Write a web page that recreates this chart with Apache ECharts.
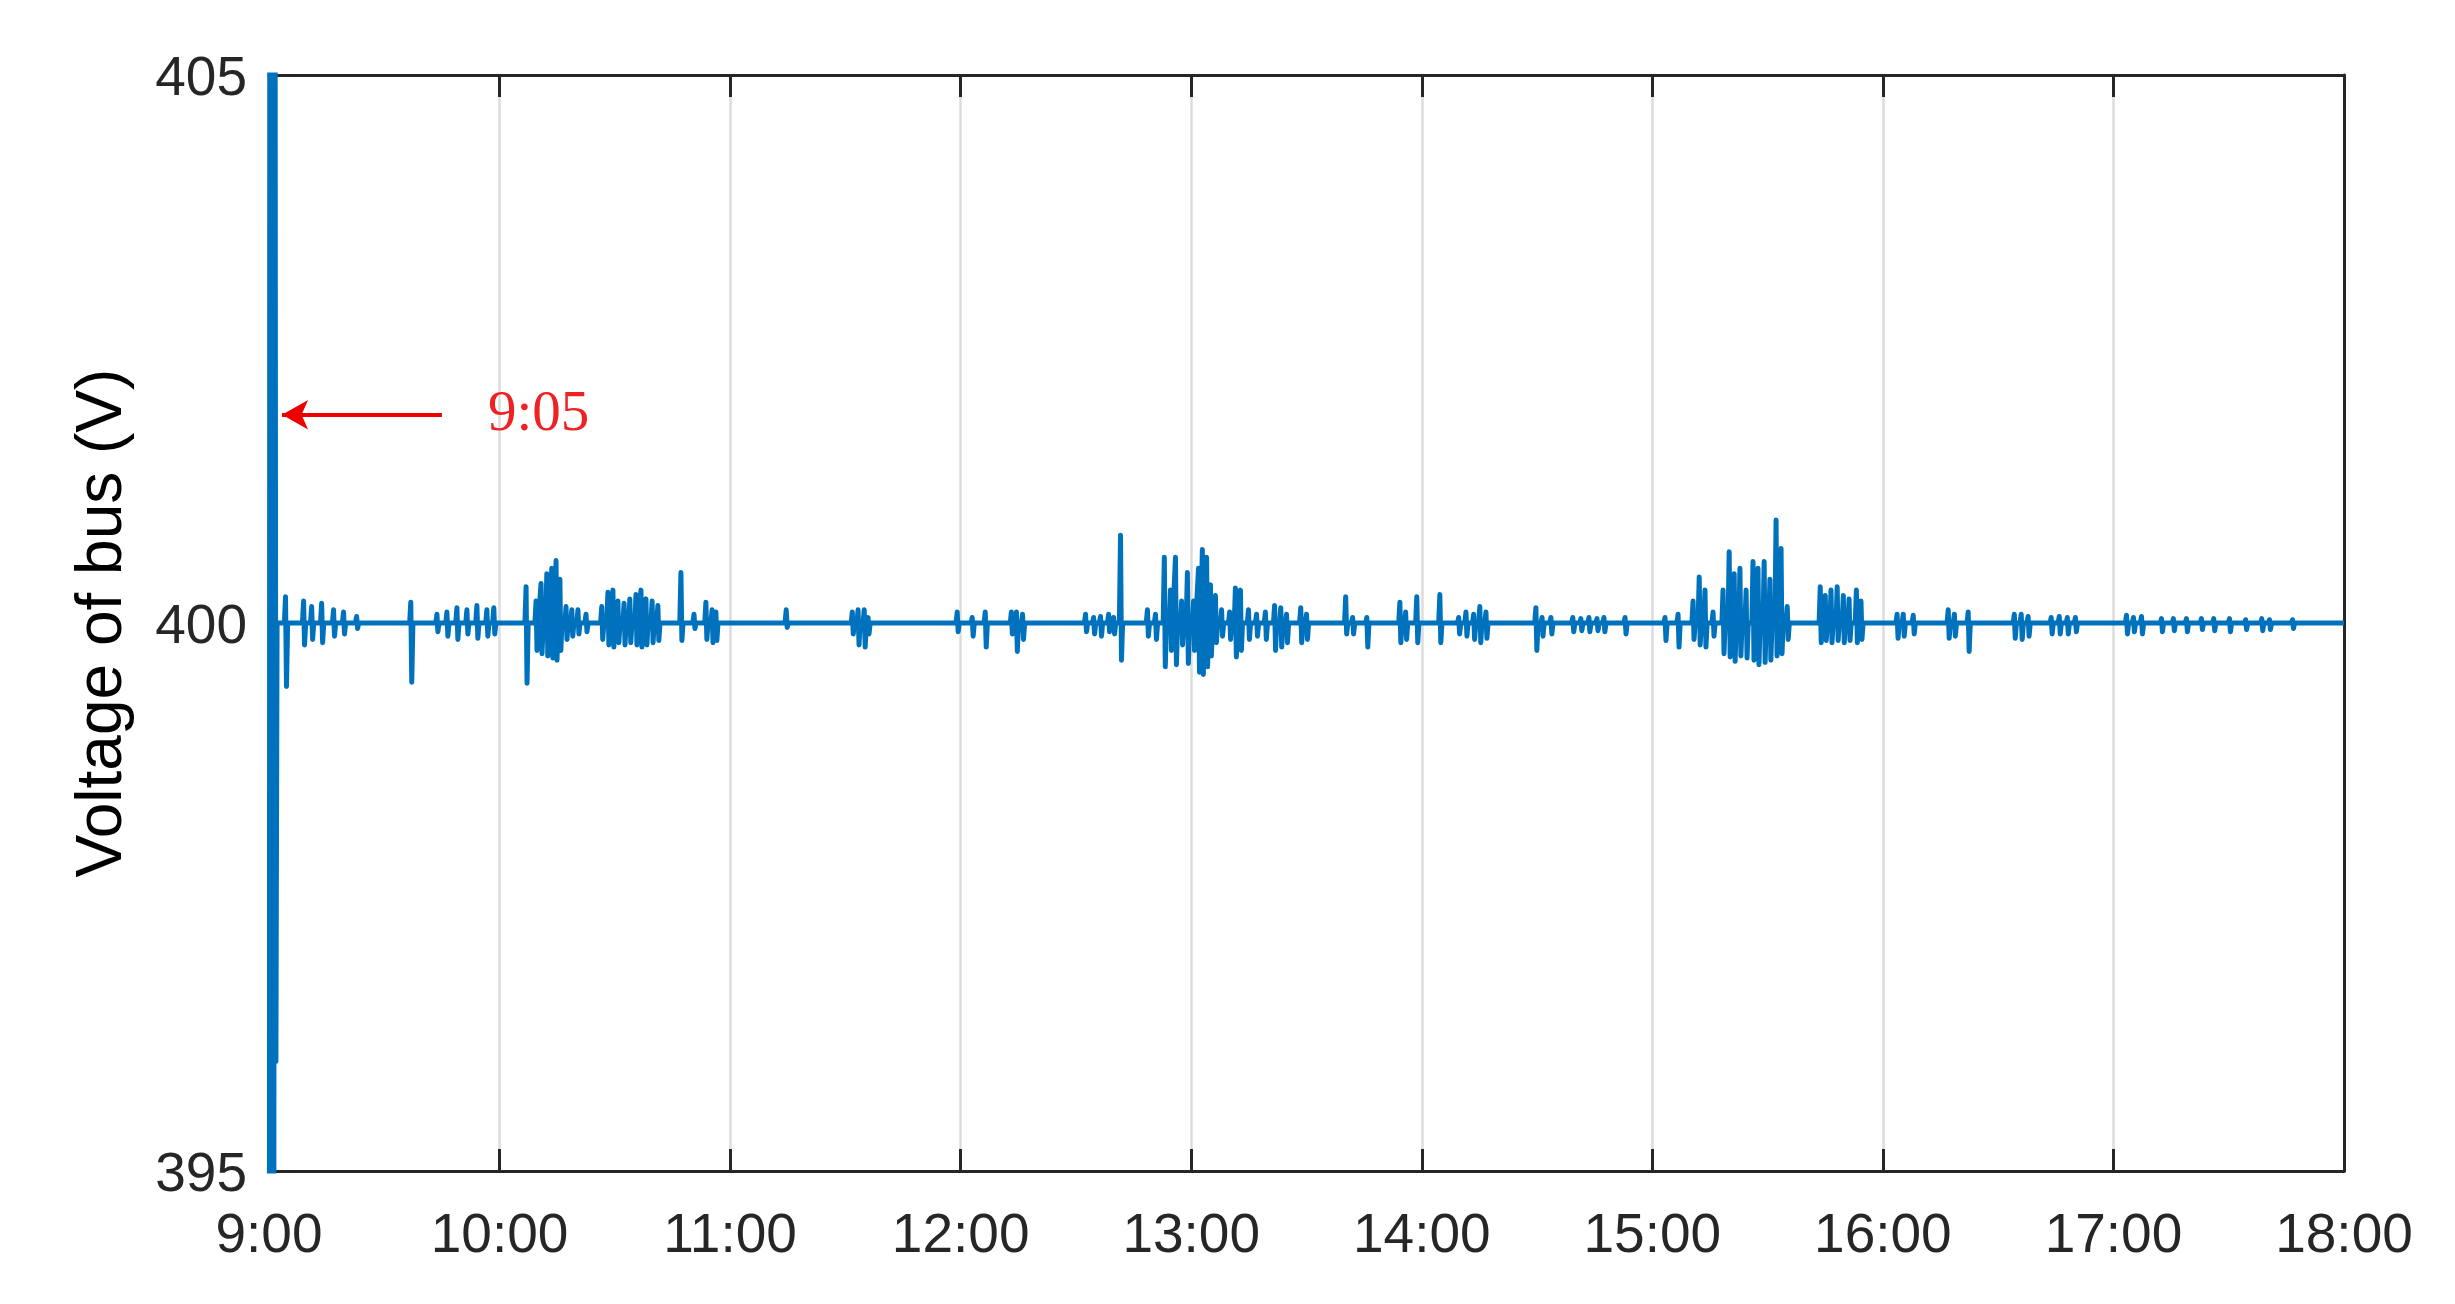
<!DOCTYPE html>
<html>
<head>
<meta charset="utf-8">
<title>Voltage of bus</title>
<script src="https://cdn.jsdelivr.net/npm/echarts@6/dist/echarts.min.js"></script>
<style>
  html, body { margin: 0; padding: 0; background: #fff; }
  #chart { width: 2455px; height: 1304px; }
</style>
</head>
<body>
<div id="chart"></div>
<script>
// x axis runs in minutes after 9:00
const hourLabels = ['9:00', '10:00', '11:00', '12:00', '13:00', '14:00', '15:00', '16:00', '17:00', '18:00'];
const yMin = 395;
const yMax = 405;
const baseVolt = 400;

// start-up transient just after 9:00 (goes off the scale both ways)
const startMin = [0, 0.3, 0.6, 0.9, 1.2, 1.5, 1.8, 2.1];
const startVolt = [380, 420, 385, 415, 390, 410, 396, 400];

// spikes: time (min after 9:00), peak and dip (V)
const spikeMin = [
  4.4, 9.1, 11.2, 13.8, 16.9, 19.5, 22.9, 37.0, 43.8, 46.4, 49.0, 51.6, 54.2, 56.8, 58.6,
  67.0, 69.6, 70.9, 72.4, 73.7, 74.8, 75.8, 77.4, 78.9, 80.5, 82.6, 86.7, 88.3, 89.6, 90.9,
  92.5, 94.0, 95.6, 96.9, 98.2, 99.8, 101.3, 107.3, 110.7, 113.8, 115.4, 116.4,
  134.7, 151.9, 153.4, 155.0, 156.0,
  179.2, 183.1, 186.5, 193.3, 194.6, 196.2, 212.6, 214.7, 216.5, 218.6, 219.9, 221.7,
  228.7, 230.8, 233.1, 234.7, 236.0, 237.6, 239.1,
  240.7, 242.0, 243.0, 244.1, 245.1, 246.4, 248.0, 250.1, 251.6, 252.9, 255.0, 257.1,
  259.4, 261.8, 263.4, 264.9, 268.6, 270.1, 280.3, 282.1, 285.8, 294.4, 295.9, 298.8,
  304.8, 309.7, 311.6, 313.6, 315.2, 316.8, 329.8, 331.4, 333.7, 339.4, 341.5, 343.6,
  345.7, 347.5, 353.0,
  363.4, 366.8, 370.7, 372.3, 373.8, 375.9, 378.5, 380.1, 381.4, 382.9, 384.5, 386.3,
  387.6, 389.2, 390.7, 392.3, 393.6, 395.2, 403.8, 405.1, 406.6, 408.2, 409.8, 411.3,
  413.2, 414.4,
  423.8, 425.4, 428.0, 437.1, 438.7, 442.3, 454.3, 456.1, 457.9, 463.9, 466.0, 468.1, 470.2,
  483.5, 485.3, 487.4, 492.6, 495.7, 499.1, 503.0, 506.2, 510.3, 514.5, 518.7, 520.7, 526.7
];
const spikeHigh = [
  400.24, 400.20, 400.15, 400.18, 400.12, 400.10, 400.06, 400.19, 400.08, 400.10, 400.14, 400.12, 400.16, 400.12, 400.14,
  400.33, 400.20, 400.36, 400.45, 400.50, 400.57, 400.40, 400.15, 400.12, 400.12, 400.08, 400.15, 400.28, 400.30, 400.20,
  400.18, 400.22, 400.26, 400.30, 400.22, 400.20, 400.16, 400.46, 400.08, 400.19, 400.12, 400.10,
  400.12, 400.10, 400.12, 400.12, 400.05,
  400.10, 400.05, 400.10, 400.10, 400.10, 400.08, 400.08, 400.05, 400.06, 400.08, 400.05, 400.80,
  400.12, 400.08, 400.60, 400.30, 400.60, 400.20, 400.46,
  400.20, 400.50, 400.67, 400.60, 400.35, 400.25, 400.12, 400.10, 400.32, 400.30, 400.12, 400.08,
  400.10, 400.16, 400.14, 400.08, 400.14, 400.08, 400.24, 400.05, 400.05, 400.19, 400.10, 400.24,
  400.26, 400.05, 400.10, 400.08, 400.15, 400.10, 400.14, 400.05, 400.05, 400.05, 400.04, 400.05,
  400.04, 400.05, 400.05,
  400.05, 400.08, 400.20, 400.42, 400.30, 400.10, 400.30, 400.65, 400.45, 400.50, 400.30, 400.56,
  400.50, 400.56, 400.40, 400.94, 400.68, 400.15, 400.33, 400.25, 400.30, 400.33, 400.25, 400.22,
  400.30, 400.20,
  400.08, 400.08, 400.07, 400.12, 400.08, 400.10, 400.08, 400.08, 400.06, 400.05, 400.06, 400.05, 400.05,
  400.07, 400.05, 400.06, 400.04, 400.04, 400.04, 400.04, 400.04, 400.04, 400.03, 400.04, 400.03, 400.03
];
const spikeLow = [
  399.42, 399.80, 399.85, 399.82, 399.88, 399.90, 399.95, 399.46, 399.92, 399.88, 399.85, 399.90, 399.86, 399.88, 399.90,
  399.45, 399.75, 399.72, 399.70, 399.68, 399.66, 399.75, 399.85, 399.88, 399.90, 399.92, 399.85, 399.80, 399.78, 399.82,
  399.80, 399.82, 399.80, 399.78, 399.80, 399.82, 399.84, 399.84, 399.95, 399.85, 399.82, 399.84,
  399.96, 399.90, 399.80, 399.78, 399.90,
  399.92, 399.88, 399.78, 399.90, 399.74, 399.85, 399.92, 399.90, 399.88, 399.92, 399.90, 399.66,
  399.88, 399.85, 399.60, 399.75, 399.62, 399.80, 399.63,
  399.75, 399.55, 399.53, 399.60, 399.70, 399.82, 399.88, 399.85, 399.69, 399.75, 399.85, 399.88,
  399.85, 399.75, 399.78, 399.82, 399.82, 399.85, 399.90, 399.90, 399.78, 399.82, 399.85, 399.82,
  399.82, 399.90, 399.88, 399.85, 399.82, 399.86, 399.75, 399.88, 399.90, 399.92, 399.93, 399.92,
  399.93, 399.92, 399.90,
  399.84, 399.78, 399.85, 399.80, 399.78, 399.88, 399.72, 399.69, 399.65, 399.70, 399.68, 399.66,
  399.62, 399.64, 399.66, 399.70, 399.72, 399.85, 399.82, 399.84, 399.82, 399.84, 399.82, 399.84,
  399.82, 399.85,
  399.86, 399.88, 399.90, 399.86, 399.88, 399.74, 399.86, 399.85, 399.88, 399.90, 399.90, 399.90, 399.92,
  399.90, 399.92, 399.90, 399.92, 399.93, 399.92, 399.94, 399.93, 399.92, 399.94, 399.93, 399.94, 399.95
];

// red annotation
const arrowTailMin = 45;
const arrowTipMin = 3.4;
const arrowVolt = 401.9;
const arrowText = '9:05';

const voltageData = [];
startMin.forEach((m, i) => voltageData.push([m, startVolt[i]]));
spikeMin.forEach((m, i) => {
  voltageData.push([m - 0.4, baseVolt]);
  voltageData.push([m - 0.1, spikeHigh[i]]);
  voltageData.push([m + 0.15, spikeLow[i]]);
  voltageData.push([m + 0.45, baseVolt]);
});
voltageData.push([540, baseVolt]);

const axisColor = '#262626';
const labelFont = { fontFamily: 'Liberation Sans, Arial, sans-serif', fontSize: 55, color: axisColor };

const chart = echarts.init(document.getElementById('chart'));

const option = {
  animation: false,
  backgroundColor: '#fff',
  grid: {
    left: 269,
    right: 111,
    top: 75,
    bottom: 133,
    outerBoundsMode: 'none'
  },
  xAxis: [
    {
      type: 'value',
      min: 0,
      max: 540,
      interval: 60,
      axisLine: { show: true, onZero: false, lineStyle: { color: axisColor, width: 3 } },
      axisTick: { show: true, inside: true, length: 22, lineStyle: { color: axisColor, width: 3 } },
      axisLabel: Object.assign({ margin: 38, formatter: (v) => hourLabels[Math.round(v / 60)] }, labelFont),
      splitLine: { show: true, lineStyle: { color: '#dcdcdc', width: 2.5 } }
    },
    {
      type: 'value',
      position: 'top',
      min: 0,
      max: 540,
      interval: 60,
      axisLine: { show: true, onZero: false, lineStyle: { color: axisColor, width: 3 } },
      axisTick: { show: true, inside: true, length: 22, lineStyle: { color: axisColor, width: 3 } },
      axisLabel: { show: false },
      splitLine: { show: false }
    }
  ],
  yAxis: [
    {
      type: 'value',
      min: yMin,
      max: yMax,
      interval: 5,
      name: 'Voltage of bus (V)',
      nameLocation: 'middle',
      nameGap: 134,
      nameTextStyle: { fontFamily: 'Liberation Sans, Arial, sans-serif', fontSize: 64, color: '#000' },
      axisLine: { show: true, onZero: false, lineStyle: { color: axisColor, width: 3 } },
      axisTick: { show: true, inside: true, length: 22, lineStyle: { color: axisColor, width: 3 } },
      axisLabel: {
        margin: 22,
        formatter: (v) => '{t|' + v + '}',
        rich: {
          t: Object.assign({ padding: [10, 0, 0, 0] }, labelFont)
        }
      },
      splitLine: { show: false }
    },
    {
      type: 'value',
      position: 'right',
      min: yMin,
      max: yMax,
      interval: 5,
      axisLine: { show: true, onZero: false, lineStyle: { color: axisColor, width: 3 } },
      axisTick: { show: true, inside: true, length: 22, lineStyle: { color: axisColor, width: 3 } },
      axisLabel: { show: false },
      splitLine: { show: false }
    }
  ],
  series: [
    {
      name: 'Voltage of bus',
      type: 'line',
      xAxisIndex: 0,
      yAxisIndex: 0,
      data: voltageData,
      showSymbol: false,
      clip: true,
      lineStyle: { color: '#0072BD', width: 5, join: 'round' },
      markLine: {
        silent: true,
        symbol: ['none', 'arrow'],
        symbolSize: [22, 26],
        lineStyle: { color: '#ee0000', width: 4, type: 'solid' },
        label: {
          show: true,
          position: 'start',
          distance: 46,
          formatter: arrowText,
          fontFamily: 'Liberation Serif, Times New Roman, serif',
          fontSize: 57,
          color: '#ee2222'
        },
        data: [
          [
            { coord: [arrowTailMin, arrowVolt] },
            { coord: [arrowTipMin, arrowVolt] }
          ]
        ]
      }
    }
  ]
};

chart.setOption(option);
</script>
</body>
</html>
